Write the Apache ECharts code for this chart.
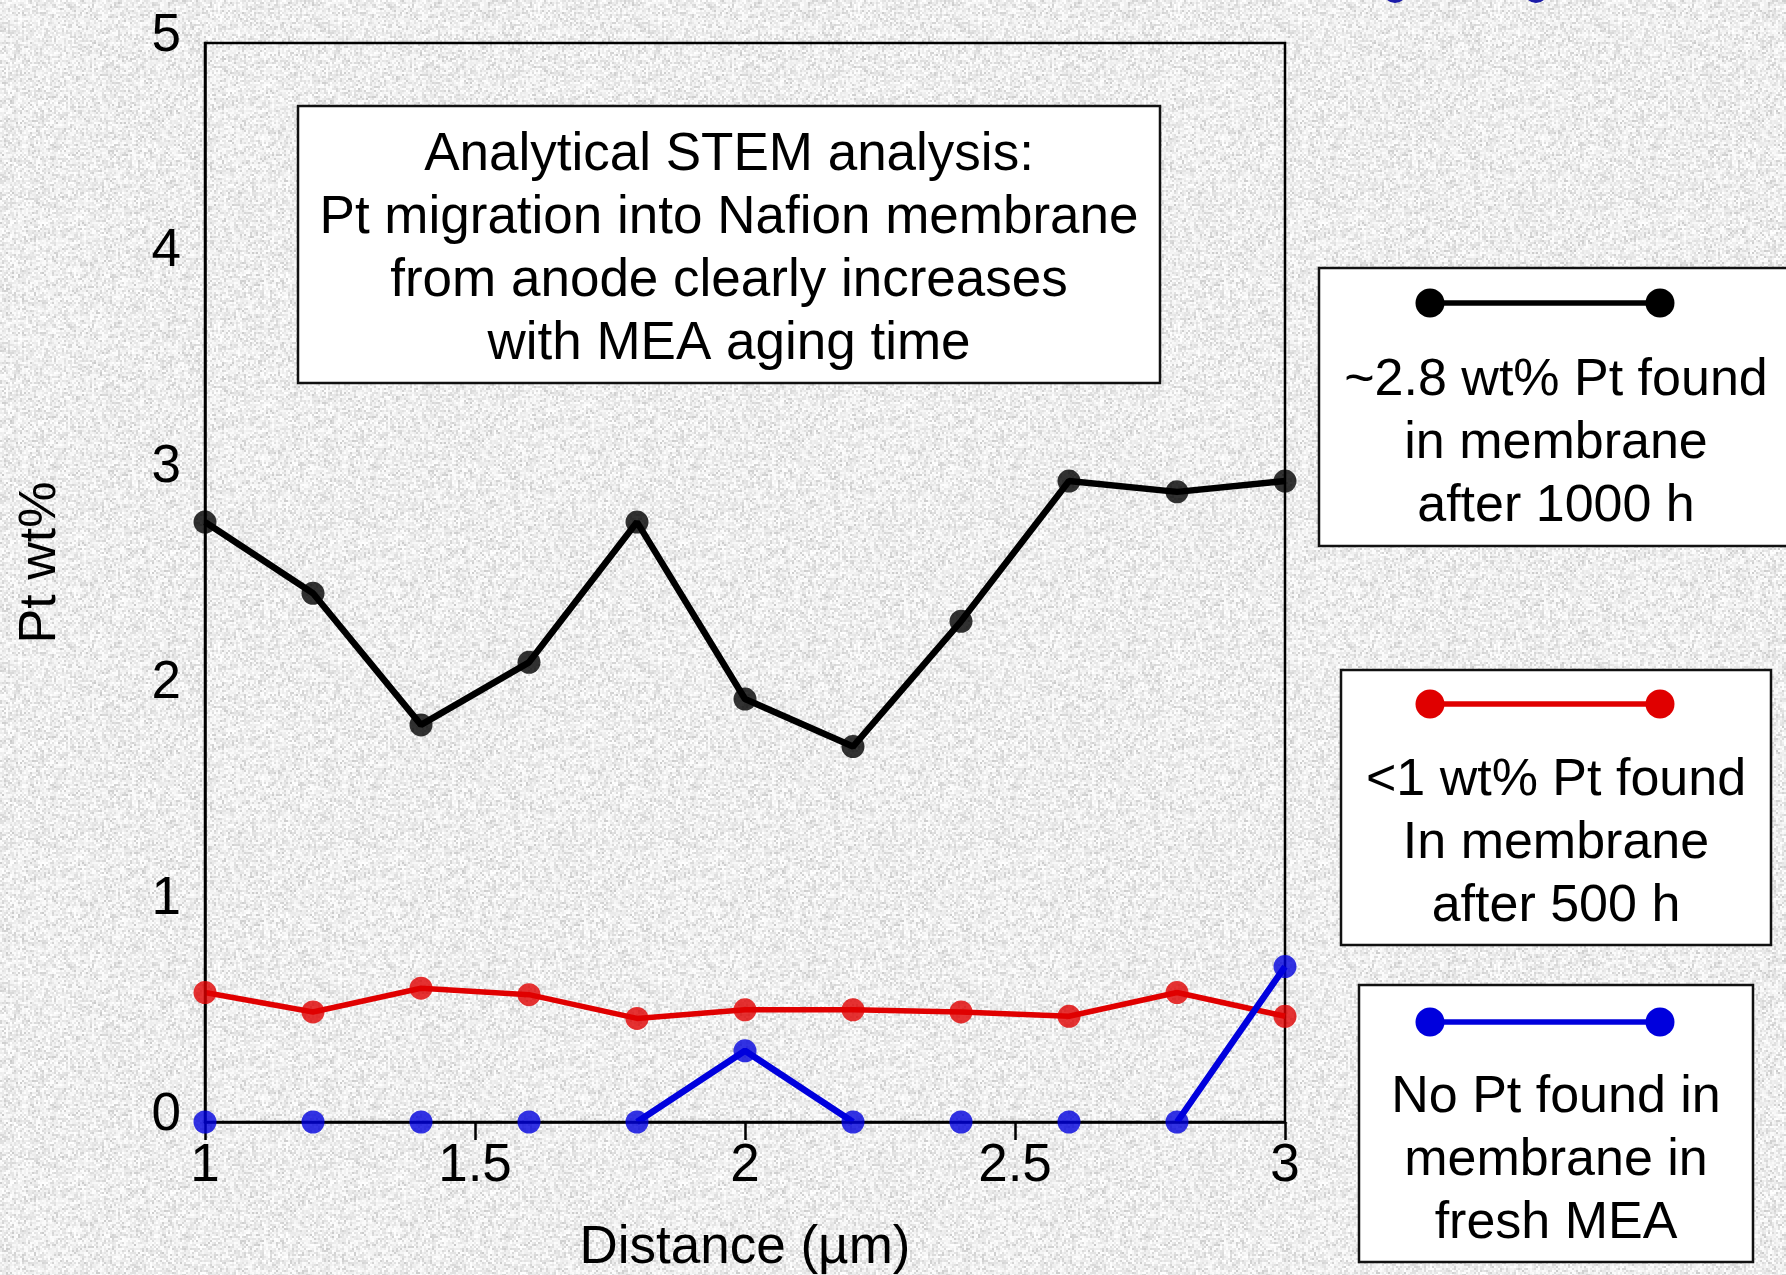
<!DOCTYPE html>
<html><head><meta charset="utf-8">
<script src="https://cdn.jsdelivr.net/npm/echarts@6/dist/echarts.min.js"></script>
<style>
html,body{margin:0;padding:0;width:1786px;height:1275px;overflow:hidden;background:#e6e6e6}
#c{width:1786px;height:1275px}
</style>
</head><body><div id="c"></div>
<script>
// ---- data ----
const distance = [1.0, 1.2, 1.4, 1.6, 1.8, 2.0, 2.2, 2.4, 2.6, 2.8, 3.0];
const pt1000h  = [2.78, 2.45, 1.84, 2.13, 2.78, 1.96, 1.74, 2.32, 2.97, 2.92, 2.97];
const pt500h   = [0.60, 0.51, 0.62, 0.59, 0.48, 0.52, 0.52, 0.51, 0.49, 0.60, 0.49];
const ptFresh  = [0, 0, 0, 0, 0, 0.33, 0, 0, 0, 0, 0.72];
const xTickLabels = ['1', '1.5', '2', '2.5', '3'];
const yTickLabels = ['0', '1', '2', '3', '4', '5'];
const seriesNames = ['after 1000 h', 'after 500 h', 'fresh MEA'];
const seriesColors = ['#000000', '#e00000', '#0000dd'];
const legendTexts = [
  ['~2.8 wt% Pt found', 'in membrane', 'after 1000 h'],
  ['<1 wt% Pt found', 'In membrane', 'after 500 h'],
  ['No Pt found in', 'membrane in', 'fresh MEA']
];
const annotationLines = [
  'Analytical STEM analysis:',
  'Pt migration into Nafion membrane',
  'from anode clearly increases',
  'with MEA aging time'
];

// ---- granite-like paper background (deterministic) ----
(function () {
  const N = 320, c = document.createElement('canvas');
  c.width = c.height = N;
  const g = c.getContext('2d'), img = g.createImageData(N, N);
  let s = 987654321;
  const rnd = () => { s = (s * 1103515245 + 12345) & 0x7fffffff; return s / 0x7fffffff; };
  const B = N / 2, vals = new Float32Array(B * B);
  for (let i = 0; i < B * B; i++) vals[i] = 200 + 55 * Math.pow(rnd(), 0.5);
  for (let y = 0; y < N; y++) for (let x = 0; x < N; x++) {
    const v = vals[((y >> 1) % B) * B + ((x >> 1) % B)];
    const k = (y * N + x) * 4;
    img.data[k] = v; img.data[k + 1] = v; img.data[k + 2] = v; img.data[k + 3] = 255;
  }
  g.putImageData(img, 0, 0);
  document.getElementById('c').style.background = 'url(' + c.toDataURL() + ')';
})();

const FONT = '"Liberation Sans", Arial, Helvetica, sans-serif';
const datasets = [pt1000h, pt500h, ptFresh];
const lineWidths = [6.5, 5.5, 6.5];

// line path: a point is drawn only if it or a neighbour lies above the axis
function linePoints(vals) {
  return vals.map((v, i) => {
    const keep = v !== 0 || (i > 0 && vals[i - 1] !== 0) || (i < vals.length - 1 && vals[i + 1] !== 0);
    return [distance[i], keep ? v : '-'];
  });
}

const series = [];
datasets.forEach((vals, k) => {
  series.push({
    name: seriesNames[k], type: 'line', z: 2, clip: false,
    showSymbol: false, connectNulls: false,
    lineStyle: { color: seriesColors[k], width: lineWidths[k] },
    data: linePoints(vals), animation: false
  });
});
datasets.forEach((vals, k) => {
  series.push({
    name: seriesNames[k], type: 'scatter', z: 5, clip: false,
    symbol: 'circle', symbolSize: 23,
    itemStyle: { color: seriesColors[k] },
    data: vals.map((v, i) => [distance[i], v]), animation: false
  });
});

// legend boxes (drawn as graphics, laid out like the reference)
const legendBoxes = [
  { x: 1319, y: 268, w: 520, h: 278, sy: 303, ty: 444 },
  { x: 1341, y: 670, w: 430, h: 275, sy: 704, ty: 844 },
  { x: 1359, y: 985, w: 394, h: 277, sy: 1022, ty: 1161 }
];
const graphics = [];
legendBoxes.forEach((b, k) => {
  graphics.push({ type: 'rect', z: 10, shape: { x: b.x, y: b.y, width: b.w, height: b.h },
    style: { fill: '#ffffff', stroke: '#111', lineWidth: 2.5 } });
  graphics.push({ type: 'line', z: 11, shape: { x1: 1430, y1: b.sy, x2: 1660, y2: b.sy },
    style: { stroke: seriesColors[k], lineWidth: 5.5 } });
  graphics.push({ type: 'circle', z: 12, shape: { cx: 1430, cy: b.sy, r: 14.5 }, style: { fill: seriesColors[k] } });
  graphics.push({ type: 'circle', z: 12, shape: { cx: 1660, cy: b.sy, r: 14.5 }, style: { fill: seriesColors[k] } });
  graphics.push({ type: 'text', z: 12, x: 1556, y: b.ty,
    style: { text: legendTexts[k].join('\n'), fill: '#000', font: '52px ' + FONT,
      textAlign: 'center', textVerticalAlign: 'middle', align: 'center', verticalAlign: 'middle', lineHeight: 63 } });
});
// annotation box
graphics.push({ type: 'rect', z: 10, shape: { x: 298, y: 106, width: 862, height: 277 },
  style: { fill: '#ffffff', stroke: '#111', lineWidth: 2.5 } });
graphics.push({ type: 'text', z: 12, x: 729, y: 250,
  style: { text: annotationLines.join('\n'), fill: '#000', font: '53px ' + FONT,
    textAlign: 'center', textVerticalAlign: 'middle', align: 'center', verticalAlign: 'middle', lineHeight: 63 } });
// cut-off blue glyph fragments at the top edge
graphics.push({ type: 'circle', z: 12, shape: { cx: 1395, cy: -9, r: 12 }, style: { fill: '#1a1aa8' } });
graphics.push({ type: 'circle', z: 12, shape: { cx: 1536, cy: -9, r: 12 }, style: { fill: '#1a1aa8' } });

const chart = echarts.init(document.getElementById('c'), null, { renderer: 'canvas' });
chart.setOption({
  backgroundColor: 'transparent',
  animation: false,
  textStyle: { fontFamily: FONT },
  grid: { left: 205, right: 501, top: 43, bottom: 153, containLabel: false, outerBoundsMode: 'none',
    show: true, borderColor: '#000', borderWidth: 2.5, backgroundColor: 'transparent' },
  xAxis: {
    type: 'value', min: 1, max: 3, interval: 0.5, z: 3,
    name: 'Distance (\u00b5m)', nameLocation: 'middle', nameGap: 100,
    nameTextStyle: { fontSize: 53, color: '#000', fontFamily: FONT },
    axisLine: { show: true, onZero: false, lineStyle: { color: '#000', width: 2.5 } },
    axisTick: { show: true, inside: false, length: 18, lineStyle: { color: '#000', width: 2.5 } },
    axisLabel: { fontSize: 53, color: '#000', margin: 18, fontFamily: FONT,
      formatter: v => xTickLabels[Math.round((v - 1) / 0.5)] },
    splitLine: { show: false }
  },
  yAxis: {
    type: 'value', min: 0, max: 5, interval: 1, z: 3,
    name: 'Pt wt%', nameLocation: 'middle', nameGap: 138, nameRotate: 90,
    nameTextStyle: { fontSize: 52, color: '#000', fontFamily: FONT, padding: [0, 0, 0, 40] },
    axisLine: { show: true, lineStyle: { color: '#000', width: 2.5 } },
    axisTick: { show: false },
    axisLabel: { color: '#000', margin: 24, fontFamily: FONT,
      formatter: v => '{t|' + yTickLabels[Math.round(v)] + '}',
      rich: { t: { fontSize: 53, color: '#000', fontFamily: FONT, lineHeight: 53, padding: [0, 0, 14, 0] } } },
    splitLine: { show: false }
  },
  series: series,
  graphic: graphics
});
</script>
</body></html>
